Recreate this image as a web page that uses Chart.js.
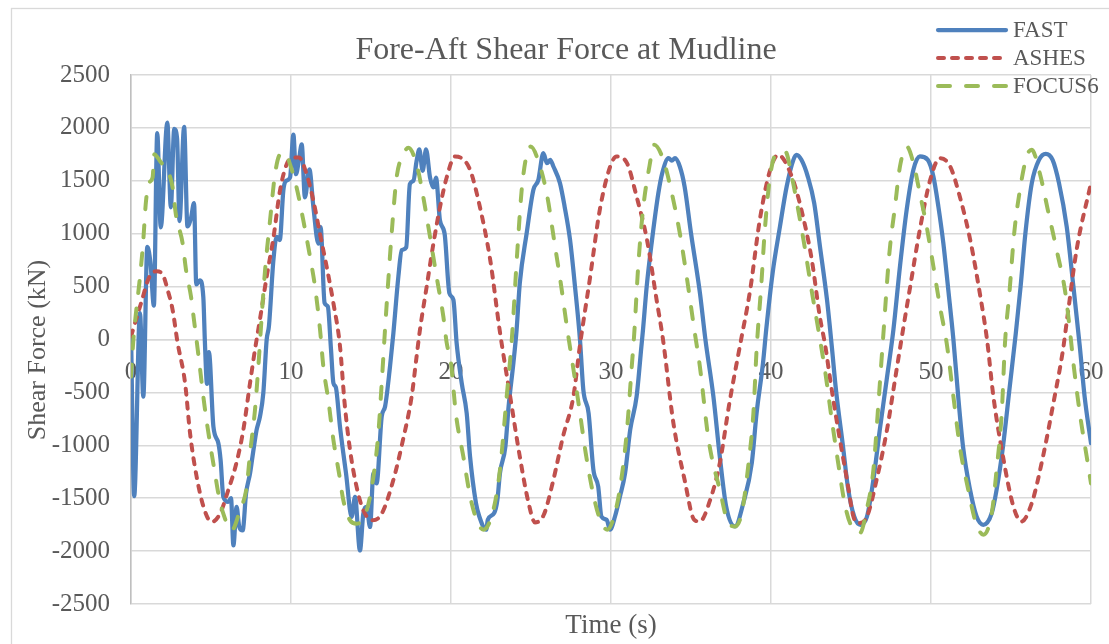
<!DOCTYPE html>
<html>
<head>
<meta charset="utf-8">
<title>Fore-Aft Shear Force at Mudline</title>
<script src="https://cdn.jsdelivr.net/npm/chart.js@4.4.0/dist/chart.umd.min.js"></script>
<style>
  html, body { margin: 0; padding: 0; background: #fff; }
  #wrap { width: 1109px; height: 644px; position: relative; }
</style>
</head>
<body>
<div id="wrap"><canvas id="chart" width="1109" height="644"></canvas></div>
<script>
const chartTitle = 'Fore-Aft Shear Force at Mudline';
const xTitle = 'Time (s)';
const yTitle = 'Shear Force (kN)';
const seriesNames = ['FAST', 'ASHES', 'FOCUS6'];

// FAST (s, kN)
const fastTime = [0, 0.2, 0.56, 0.77, 1.02, 1.22, 1.43, 1.64, 1.86, 2.27, 2.49, 2.7, 2.88, 3.03, 3.32, 3.53, 3.75, 3.94,
  4.08, 4.3, 4.52, 4.62, 4.75, 4.87, 5.15, 5.46, 5.6, 5.77, 6.08, 6.25, 6.4, 6.6, 6.77, 6.98, 7.19, 7.44, 7.6, 7.85,
  8.06, 8.27, 8.48, 8.62, 8.9, 9.1, 9.3, 9.52, 9.69, 9.94, 10.15, 10.31, 10.5, 10.67, 10.87, 11.15, 11.4, 11.71, 11.85,
  12.1, 12.3, 12.5, 12.65, 12.8, 13.06, 13.27, 13.44, 13.79, 14.0, 14.31, 14.52, 14.73, 14.94, 15.15, 15.35, 15.67,
  15.88, 16.19, 16.4, 16.71, 16.92, 17.2, 17.43, 17.65, 17.85, 18.02, 18.23, 18.44, 18.69, 18.9, 19.06, 19.31, 19.6,
  19.9, 20.15, 20.35, 20.67, 20.98, 21.19, 21.56, 21.77, 22.2, 22.3, 22.7, 22.9, 23.06, 23.4, 23.6, 23.9, 24.1, 24.3,
  24.73, 25.15, 25.46, 25.77, 26.0, 26.2, 26.4, 26.81, 27.1, 27.44, 27.75, 28.06, 28.27, 28.6, 28.9, 29.2, 29.4, 29.73,
  29.94, 30.25, 30.56, 30.88, 31.2, 31.6, 31.9, 32.0, 32.23, 32.54, 32.96, 33.2, 33.6, 33.8, 34.0, 34.3, 34.6, 35.0,
  35.56, 35.9, 36.4, 36.8, 37.2, 37.75, 38.27, 38.8, 39.1, 39.5, 39.7, 40.1, 40.56, 40.98, 41.4, 41.6, 41.9, 42.3, 42.7,
  43.06, 43.5, 43.8, 44.06, 44.5, 44.8, 45.2, 45.6, 46.0, 46.4, 46.8, 47.23, 47.65, 48.06, 48.48, 48.9, 49.3, 49.8,
  50.15, 50.46, 50.77, 51.08, 51.4, 51.7, 52.0, 52.44, 52.85, 53.27, 53.8, 54.1, 54.5, 54.9, 55.3, 55.6, 55.9, 56.3,
  56.75, 57.17, 57.6, 58.0, 58.48, 58.9, 59.3, 59.6, 60];
const fastForce = [60, -1480, 250, -540, 875, 720, 320, 1950, 1060, 2050, 1250, 1990, 1900, 1120, 2010, 1070, 1150, 1290,
  520, 560, 400, -30, -420, -120, -823, -981, -1139, -1487, -1535, -1500, -1946, -1582, -1772, -1804, -1456, -1266, -1100, -855,
  -728, -506, 0, 125, 750, 969, 940, 1406, 1500, 1531, 1937, 1562, 1700, 1844, 1344, 1609, 1250, 906, 1062,
  344, 312, -94, -411, -450, -823, -1076, -1266, -1677, -1487, -1994, -1646, -1582, -1772, -1266, -1361, -728,
  -633, -253, 62, 594, 844, 870, 1469, 1500, 1687, 1797, 1594, 1797, 1531, 1437, 1531, 1125, 1000,
  437, 375, -31, -412, -696, -1106, -1546, -1673, -1798, -1704, -1640, -1515, -1263, -1011, -633, -223, 92, 533,
  1005, 1415, 1509, 1761, 1667, 1698, 1635, 1478, 1257, 942, 500, 0, -475, -696, -1231, -1389, -1673, -1704,
  -1798, -1673, -1484, -1263, -853, -539, -66, 92, 500, 911, 1383, 1572, 1714, 1690, 1714, 1635, 1446, 1005,
  438, 0, -539, -1106, -1580, -1767, -1546, -1168, -696, -223, 92, 627, 1068, 1446, 1698, 1745, 1698, 1540, 1289,
  879, 375, -66, -475, -1011, -1389, -1673, -1751, -1673, -1326, -853, -380, 92, 690, 1226, 1604, 1730, 1698,
  1540, 1257, 911, 470, 0, -539, -1011, -1420, -1673, -1751, -1640, -1420, -1011, -475, 60, 500, 1005, 1478,
  1698, 1755, 1698, 1478, 1068, 500, -66, -539, -980];

// ASHES (s, kN)
const ashesTime = [0, 0.63, 1.15, 1.6, 2.0, 2.29, 2.6, 2.9, 3.38, 3.69, 4.1, 4.6, 5.04, 5.56, 6.08, 6.6, 7.02, 7.44, 7.75,
  8.06, 8.48, 8.9, 9.31, 9.73, 10.15, 10.5, 10.98, 11.4, 11.81, 12.23, 12.65, 13.06, 13.35, 13.69, 14.1, 14.52, 15.1,
  15.67, 16.4, 17.0, 17.54, 17.85, 18.06, 18.48, 18.9, 19.31, 19.73, 20.25, 20.6, 21.19, 21.8, 22.45, 23.05, 23.7,
  24.3, 24.85, 25.25, 25.8, 26.4, 27.0, 27.65, 28.05, 28.7, 29.3, 29.95, 30.35, 31.0, 31.6, 32.25, 32.85, 33.25, 33.9,
  34.6, 35.2, 35.55, 36.2, 36.8, 37.4, 38.05, 38.7, 39.3, 39.95, 40.45, 41.3, 41.9, 42.55, 43.05, 43.4, 43.7, 44.2,
  44.75, 45.15, 45.45, 46.0, 46.6, 47.25, 47.75, 48.25, 48.7, 49.3, 49.95, 50.55, 51.2, 51.8, 52.45, 53.05, 53.5,
  53.9, 54.5, 55.15, 55.65, 56.3, 57.0, 57.65, 58.25, 58.5, 59.1, 60];
const ashesForce = [30, 344, 594, 645, 609, 469, 281, -20, -412, -885, -1295, -1614, -1725, -1646, -1424, -1160, -855, -411, -95,
  190, 594, 960, 1406, 1656, 1719, 1720, 1560, 1312, 1000, 687, 344, -60, -600, -1044, -1393, -1614, -1709,
  -1646, -1326, -948, -539, -160, 92, 500, 906, 1250, 1531, 1730, 1719, 1604, 1257, 753, 80, -539,
  -1106, -1546, -1729, -1657, -1326, -917, -539, -66, 595, 1226, 1635, 1730, 1667, 1351, 942, 375, 0, -790,
  -1326, -1704, -1720, -1515, -1168, -601, -66, 470, 1131, 1604, 1745, 1540, 1226, 753, 217, -66, -380, -853,
  -1326, -1673, -1735, -1673, -1326, -853, -380, 92, 500, 1037, 1509, 1714, 1635, 1351, 942, 438, 0,
  -539, -1106, -1578, -1720, -1546, -1106, -601, -97, 186, 848, 1480];

// FOCUS6 (s, kN)
const focusTime = [0, 0.15, 0.31, 0.52, 0.75, 0.94, 1.15, 1.35, 1.46, 1.67, 1.88, 2.19, 2.6, 2.8, 3.23, 3.44, 3.75, 3.96,
  4.17, 4.6, 4.94, 5.25, 5.46, 5.77, 6.29, 6.81, 7.23, 7.44, 7.75, 7.96, 8.17, 8.38, 8.69, 9.0, 9.31, 9.63, 9.94, 10.35,
  10.77, 11.19, 11.5, 11.81, 12.02, 12.33, 12.65, 13.0, 13.27, 13.69, 14.1, 14.73, 15.15, 15.46, 15.67, 15.9, 16.1,
  16.29, 16.6, 17.02, 17.33, 17.85, 18.27, 18.69, 19.1, 19.52, 19.73, 20.0, 20.3, 20.77, 21.2, 21.6, 22.02, 22.65,
  23.06, 23.48, 23.8, 24.15, 24.46, 24.98, 25.5, 26.02, 26.44, 26.86, 27.27, 27.6, 28.0, 28.42, 28.83, 29.25, 29.77,
  30.3, 30.7, 31.0, 31.3, 31.45, 31.7, 32.0, 32.4, 32.7, 33.27, 33.8, 34.3, 34.73, 35.2, 35.55, 36.1, 36.85, 37.25,
  37.75, 38.17, 38.6, 38.9, 39.1, 39.4, 39.6, 39.94, 40.35, 40.9, 41.3, 41.7, 42.1, 42.5, 42.96, 43.4, 43.8, 44.2,
  44.6, 44.94, 45.56, 45.98, 46.4, 46.7, 47.0, 47.4, 47.75, 48.06, 48.48, 48.9, 49.3, 49.73, 50.15, 50.56, 50.98,
  51.4, 51.8, 52.33, 52.75, 53.27, 53.8, 54.1, 54.42, 54.63, 54.9, 55.2, 55.56, 55.98, 56.3, 56.8, 57.3, 57.85,
  58.4, 58.7, 58.9, 59.3, 59.73, 60];
const focusForce = [-350, 0, 250, 531, 900, 1312, 1484, 1531, 1750, 1718, 1672, 1625, 1437, 1187, 906, 656, 406, 156,
  -94, -633, -981, -1266, -1456, -1646, -1804, -1614, -1393, -1076, -665, -253, 221, 656, 1125, 1562, 1750, 1765, 1656, 1437,
  1125, 781, 500, 100, -253, -570, -950, -1263, -1519, -1709, -1741, -1614, -1298, -886, -411, 150, 600,
  1000, 1531, 1750, 1812, 1656, 1344, 969, 594, 219, -31, -223, -696, -1106, -1484, -1704, -1798, -1610,
  -1231, -539, 0, 848, 1478, 1824, 1667, 1351, 942, 533, 92, -230, -633, -1074, -1420, -1673, -1798,
  -1610, -1263, -853, -250, 50, 690, 1226, 1635, 1840, 1698, 1383, 1005, 595, 100, -250, -950, -1452, -1704,
  -1767, -1640, -1168, -696, -97, 533, 1005, 1540, 1761, 1775, 1540, 1226, 879, 500, 92, -318, -759, -1168,
  -1546, -1735, -1830, -1610, -1231, -633, 0, 817, 1257, 1635, 1824, 1667, 1383, 1068, 690, 312, -34,
  -539, -1011, -1420, -1704, -1846, -1640, -1231, -696, -20, 438, 1005, 1415, 1730, 1793, 1572, 1226, 848,
  438, 60, -223, -696, -1106, -1360];

const FONT = '"Liberation Serif", "DejaVu Serif", serif';
const TEXT = '#595959';
const GRID = '#d9d9d9';

function pairs(ts, vs) {
  return ts.map((t, i) => ({ x: t, y: vs[i] }));
}

// title, axis titles, legend and the outer frame
const decorations = {
  id: 'decorations',
  beforeDraw(chart) {
    const ctx = chart.ctx;
    ctx.save();
    ctx.fillStyle = '#fff';
    ctx.fillRect(0, 0, chart.width, chart.height);
    ctx.strokeStyle = GRID;
    ctx.lineWidth = 1.3;
    ctx.strokeRect(11.5, 8.5, chart.width + 20, chart.height + 20);
    ctx.restore();
  },
  afterDraw(chart) {
    const ctx = chart.ctx;
    const area = chart.chartArea;
    ctx.save();
    ctx.fillStyle = TEXT;

    ctx.font = '32px ' + FONT;
    ctx.textAlign = 'center';
    ctx.textBaseline = 'alphabetic';
    ctx.fillText(chartTitle, 566, 59);

    ctx.font = '27px ' + FONT;
    ctx.fillText(xTitle, (area.left + area.right) / 2, 633);

    ctx.save();
    ctx.translate(38, 350);
    ctx.rotate(-Math.PI / 2);
    ctx.textBaseline = 'middle';
    ctx.font = '26px ' + FONT;
    ctx.fillText(yTitle, 0, 0);
    ctx.restore();

    // legend
    ctx.font = '23px ' + FONT;
    ctx.textAlign = 'left';
    ctx.textBaseline = 'middle';
    chart.data.datasets.forEach((ds, i) => {
      const y = 30 + i * 28;
      ctx.save();
      ctx.strokeStyle = ds.borderColor;
      ctx.lineWidth = ds.borderWidth;
      ctx.lineCap = 'round';
      ctx.setLineDash(ds.borderDash || []);
      ctx.beginPath();
      ctx.moveTo(938, y);
      ctx.lineTo(1006, y);
      ctx.stroke();
      ctx.restore();
      ctx.fillText(ds.label, 1013, y + 1);
    });
    ctx.restore();
  }
};

new Chart(document.getElementById('chart'), {
  type: 'line',
  data: {
    datasets: [
      {
        label: seriesNames[0],
        data: pairs(fastTime, fastForce),
        borderColor: '#4f81bd',
        borderWidth: 4.25,
        borderCapStyle: 'round',
        borderJoinStyle: 'round',
        order: 2
      },
      {
        label: seriesNames[1],
        data: pairs(ashesTime, ashesForce),
        borderColor: '#c0504d',
        borderWidth: 4,
        borderDash: [6, 8],
        borderCapStyle: 'round',
        order: 1
      },
      {
        label: seriesNames[2],
        data: pairs(focusTime, focusForce),
        borderColor: '#9bbb59',
        borderWidth: 4,
        borderDash: [12, 16],
        borderCapStyle: 'round',
        order: 0
      }
    ]
  },
  options: {
    responsive: false,
    devicePixelRatio: 1,
    animation: false,
    parsing: false,
    elements: {
      point: { radius: 0, hoverRadius: 0 },
      line: { cubicInterpolationMode: 'monotone', fill: false }
    },
    layout: { padding: { left: 0, right: 18, top: 75, bottom: 40 } },
    plugins: {
      legend: { display: false },
      title: { display: false },
      tooltip: { enabled: false }
    },
    scales: {
      x: {
        type: 'linear',
        position: { y: 0 },
        min: 0,
        max: 60,
        ticks: {
          stepSize: 10,
          padding: 18,
          color: TEXT,
          font: { family: FONT, size: 25 },
          maxRotation: 0,
          callback: v => String(v)
        },
        grid: { color: GRID, lineWidth: 1.5, drawTicks: false },
        border: { color: GRID, width: 1.5 },
        // the axis sits on the zero line, so it must not take any room from the plot
        afterFit(scale) {
          scale.height = 0;
          scale.paddingLeft = 0;
          scale.paddingRight = 0;
        }
      },
      y: {
        min: -2500,
        max: 2500,
        ticks: {
          stepSize: 500,
          padding: 21,
          color: TEXT,
          font: { family: FONT, size: 25 },
          callback: v => String(v)
        },
        grid: { color: GRID, lineWidth: 1.5, drawTicks: false },
        border: { color: '#bfbfbf', width: 1.5 },
        afterFit(scale) { scale.width = 131; }
      }
    }
  },
  plugins: [decorations]
});
</script>
</body>
</html>
